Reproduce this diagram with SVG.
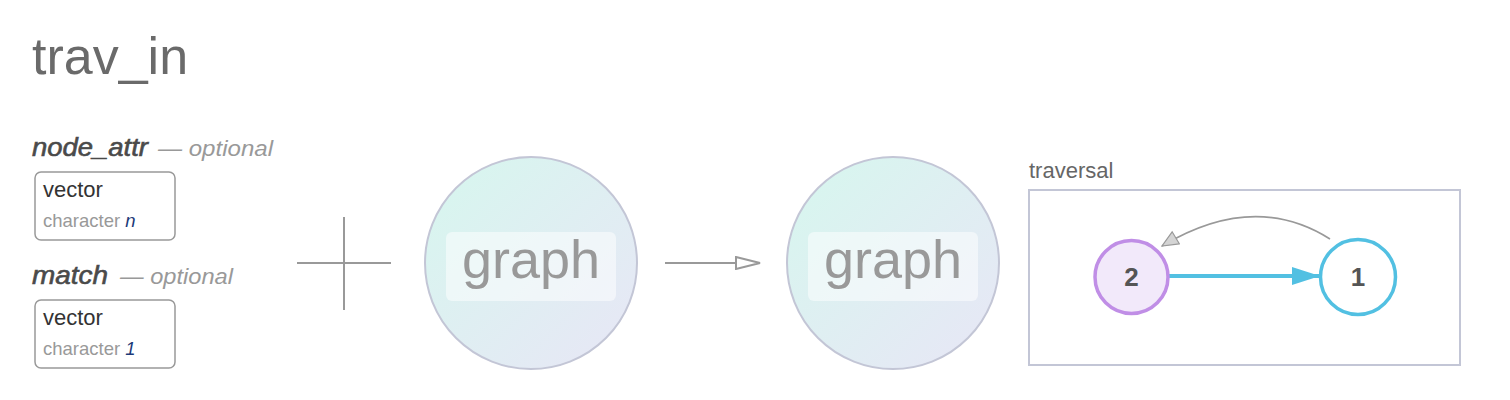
<svg xmlns="http://www.w3.org/2000/svg" width="1510" height="400" viewBox="0 0 1510 400">
<defs>
<linearGradient id="gfill" x1="0" y1="0" x2="1" y2="1">
<stop offset="0" stop-color="#d6f7ee"/>
<stop offset="1" stop-color="#e8e6f6"/>
</linearGradient>
<marker id="openArrow" viewBox="0 0 26 14" refX="25" refY="7" markerWidth="26" markerHeight="14" markerUnits="userSpaceOnUse" orient="auto">
<path d="M1,1 L25,7 L1,13 Z" fill="#fff" stroke="#999" stroke-width="2"/>
</marker>
<marker id="blueArrow" viewBox="0 0 28 18" refX="28" refY="9" markerWidth="28" markerHeight="18" markerUnits="userSpaceOnUse" orient="auto">
<path d="M0,0 L28,9 L0,18 Z" fill="#52c0e2"/>
</marker>
<marker id="grayArrow" viewBox="0 0 18 16" refX="17" refY="8" markerWidth="18" markerHeight="16" markerUnits="userSpaceOnUse" orient="auto">
<path d="M1,1 L17,8 L1,15 Z" fill="#d4d4d4" stroke="#999" stroke-width="1.2"/>
</marker>
</defs>
<style>
.title{font-family:"Liberation Sans",Arial,sans-serif;font-size:52px;fill:#6a6a6a}
.pname{font-family:"Liberation Sans",Arial,sans-serif;font-size:26px;font-style:italic;fill:#4a4a4a;stroke:#4a4a4a;stroke-width:0.6}
.opt{font-family:"Liberation Sans",Arial,sans-serif;font-size:22px;font-style:italic;fill:#999}
.box{fill:#fff;stroke:#999;stroke-width:1.5}
.vec{font-family:"Liberation Sans",Arial,sans-serif;font-size:22px;fill:#333}
.chr{font-family:"Liberation Sans",Arial,sans-serif;font-size:18.5px;fill:#999}
.val{font-style:italic;fill:#1c3a78}
.gcirc{fill:url(#gfill);stroke:#c3c6d6;stroke-width:2}
.glab{fill:#fff;fill-opacity:0.5}
.gtxt{font-family:"Liberation Sans",Arial,sans-serif;font-size:54px;fill:#999;text-anchor:middle}
.line{stroke:#999;stroke-width:2;fill:none}
.trtxt{font-family:"Liberation Sans",Arial,sans-serif;font-size:22px;fill:#666}
.ntxt{font-family:"Liberation Sans",Arial,sans-serif;font-size:26px;font-weight:bold;fill:#555;text-anchor:middle}
</style>
<text class="title" x="32" y="74">trav_in</text>
<g id="param-node_attr">
<text class="pname" x="32" y="156" textLength="116" lengthAdjust="spacingAndGlyphs">node_attr</text>
<text class="opt" x="158" y="156" textLength="115" lengthAdjust="spacingAndGlyphs">— optional</text>
<rect class="box" x="35" y="172" width="140" height="68" rx="6"/>
<text class="vec" x="43" y="197">vector</text>
<text class="chr" x="43" y="227">character <tspan class="val">n</tspan></text>
</g>
<g id="param-match">
<text class="pname" x="32" y="284" textLength="76" lengthAdjust="spacingAndGlyphs">match</text>
<text class="opt" x="120" y="284" textLength="113" lengthAdjust="spacingAndGlyphs">— optional</text>
<rect class="box" x="35" y="300" width="140" height="68" rx="6"/>
<text class="vec" x="43" y="325">vector</text>
<text class="chr" x="43" y="355">character <tspan class="val">1</tspan></text>
</g>
<g id="plus">
<line class="line" x1="297" y1="263" x2="391" y2="263"/>
<line class="line" x1="344" y1="217" x2="344" y2="310"/>
</g>
<g id="graph-in">
<circle class="gcirc" cx="531" cy="263" r="106"/>
<rect class="glab" x="446" y="232" width="170" height="69" rx="6"/>
<text class="gtxt" x="531" y="278">graph</text>
</g>
<g id="graph-out">
<circle class="gcirc" cx="893" cy="263" r="106"/>
<rect class="glab" x="808" y="232" width="170" height="69" rx="6"/>
<text class="gtxt" x="893" y="278">graph</text>
</g>
<g id="connectors">
<line class="line" x1="665" y1="263" x2="760" y2="263" marker-end="url(#openArrow)"/>
<line x1="1169" y1="276" x2="1320" y2="276" stroke="#52c0e2" stroke-width="4" marker-end="url(#blueArrow)"/>
<path d="M1330,239 Q1254,191 1162,246" fill="none" stroke="#999" stroke-width="1.6" marker-end="url(#grayArrow)"/>
</g>
<g id="traversal">
<text class="trtxt" x="1029" y="178">traversal</text>
<rect x="1029" y="190" width="431" height="175" fill="none" stroke="#c3c6d6" stroke-width="2"/>
</g>
<g id="node-2">
<circle cx="1131.5" cy="277" r="36.5" fill="#f2e9fa" stroke="#c08ee6" stroke-width="3.5"/>
<text class="ntxt" x="1131.5" y="286">2</text>
</g>
<g id="node-1">
<circle cx="1358" cy="277" r="37.5" fill="#fff" stroke="#52c0e2" stroke-width="3.5"/>
<text class="ntxt" x="1358" y="286">1</text>
</g>
</svg>
